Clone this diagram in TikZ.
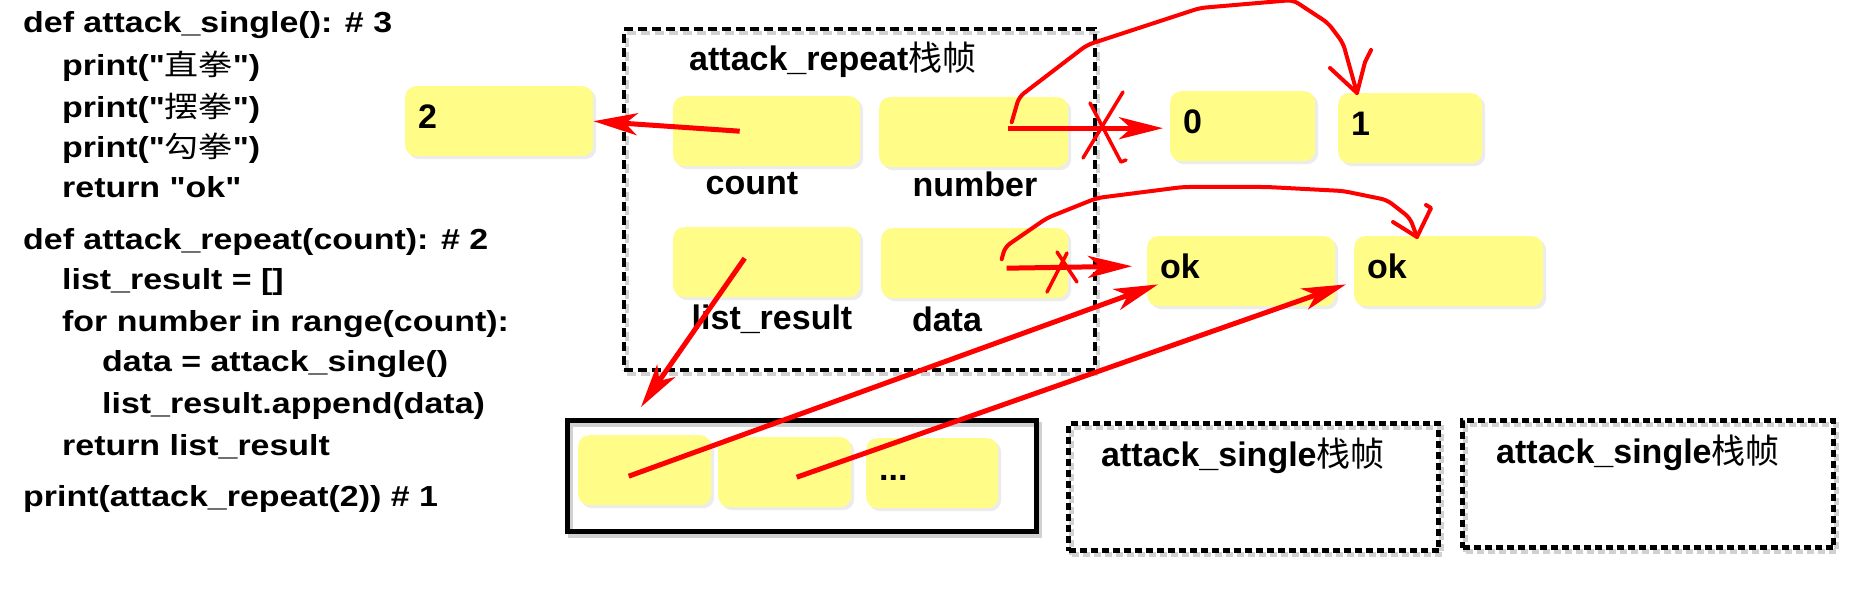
\documentclass[tikz,border=0pt]{standalone}
\usepackage{fontspec}
\setmainfont{Liberation Sans}
\newfontfamily\cjk{Noto Sans CJK SC}
\newfontfamily\codefont{Liberation Sans}[FakeStretch=1.17]
\newfontfamily\codecjk{Noto Sans CJK SC}[FakeStretch=1.17]
\usetikzlibrary{arrows.meta,shadows}

\definecolor{boxyellow}{RGB}{255,252,135}
\definecolor{arrowred}{RGB}{255,0,0}

\newcommand{\zhcode}[1]{{\codecjk\mdseries #1}}
\newcommand{\zhlabel}[1]{{\cjk\mdseries #1}}

\begin{document}
\begin{tikzpicture}[x=1pt, y=-1pt,
    codeline/.style={anchor=base west, inner sep=0pt, font=\fontsize{29}{34}\codefont\bfseries},
    tag/.style={anchor=base, inner sep=0pt, font=\fontsize{34}{40}\selectfont\bfseries},
    valbox/.style={fill=boxyellow, rounded corners=11pt, anchor=north west,
        inner xsep=13pt, inner ysep=0pt, text width=#1, minimum height=70pt,
        text height=21pt, text depth=6pt, align=left,
        font=\fontsize{34}{40}\selectfont\bfseries,
        drop shadow={opacity=0.15, shadow xshift=3pt, shadow yshift=-3pt}},
    stackframe/.style={draw, inner sep=0pt, anchor=north west, line width=4pt,
        dash pattern=on 9pt off 5pt,
        preaction={draw=black!18, transform canvas={shift={(3pt,-4pt)}}}},
    singleframe/.style={stackframe, line width=5pt, dash pattern=on 7pt off 4pt},
    listframe/.style={draw, inner sep=0pt, anchor=north west, line width=5pt,
        preaction={draw=black!18, transform canvas={shift={(3pt,-4pt)}}}},
    redarrow/.style={draw=arrowred, line width=5pt, -{Stealth[length=44pt, width=22pt, inset=12pt]}},
    redstroke/.style={draw=arrowred, line width=4pt, line cap=round, line join=round},
  ]
    \useasboundingbox[fill=white] (0,0) rectangle (1857,593);

    % source code
    \node[codeline] (c1) at (23,33) {def attack\_single(): \# 3};
    \node[codeline] (c2) at (62,76) {print("\zhcode{直拳}")};
    \node[codeline] (c3) at (62,118) {print("\zhcode{摆拳}")};
    \node[codeline] (c4) at (62,158) {print("\zhcode{勾拳}")};
    \node[codeline] (c5) at (62,198) {return "ok"};
    \node[codeline] (c6) at (23,250) {def attack\_repeat(count): \# 2};
    \node[codeline] (c7) at (62,290) {list\_result = []};
    \node[codeline] (c8) at (62,331) {for number in range(count):};
    \node[codeline] (c9) at (102,371) {data = attack\_single()};
    \node[codeline] (c10) at (102,413) {list\_result.append(data)};
    \node[codeline] (c11) at (62,455) {return list\_result};
    \node[codeline] (c12) at (23,506) {print(attack\_repeat(2)) \# 1};

    % frame of attack_repeat
    \node[stackframe, minimum width=471pt, minimum height=341pt] (repeat) at (622,27) {};
    \node[tag, anchor=base west] (reptitle) at (689,71) {attack\_repeat\zhlabel{栈帧}};
    \node[valbox=161pt] (cnt) at (673,96) {};
    \node[valbox=163pt] (num) at (879,97) {};
    \node[valbox=161pt] (lst) at (673,227) {};
    \node[valbox=161pt] (dat) at (881,228) {};
    \node[tag] (cntlabel) at (752,195) {count};
    \node[tag] (numlabel) at (975,197) {number};
    \node[tag] (lstlabel) at (772,330) {list\_result};
    \node[tag] (datlabel) at (947,332) {data};

    % values
    \node[valbox=162pt] (two) at (405,86) {2};
    \node[valbox=119pt] (zero) at (1170,91) {0};
    \node[valbox=118pt] (one) at (1338,93) {1};
    \node[valbox=162pt] (okA) at (1147,236) {ok};
    \node[valbox=163pt] (okB) at (1354,236) {ok};

    % the list
    \node[listframe, minimum width=469pt, minimum height=111pt] (listbox) at (565,418) {};
    \node[valbox=107pt] (cellA) at (578,435) {};
    \node[valbox=107pt] (cellB) at (718,437) {};
    \node[valbox=106pt] (cellC) at (866,438) {...};

    % frames of attack_single
    \node[singleframe, minimum width=370pt, minimum height=127pt] (singleA) at (1066,421) {};
    \node[tag, anchor=base west] (titleA) at (1101,466) {attack\_single\zhlabel{栈帧}};
    \node[singleframe, minimum width=371pt, minimum height=127pt] (singleB) at (1460,418) {};
    \node[tag, anchor=base west] (titleB) at (1496,463) {attack\_single\zhlabel{栈帧}};

    % references
    \draw[redarrow] ([xshift=-27pt]cnt.center) -- (two.east);
    \draw[redarrow] ([xshift=34pt,yshift=4pt]num.center) -- ([xshift=-7pt,yshift=-2pt]zero.west);
    \draw[redarrow] ([xshift=32pt,yshift=-5pt]dat.center) -- ([xshift=-15pt,yshift=5pt]okA.west);
    \draw[redarrow] ([xshift=-22pt,yshift=4pt]lst.center) -- ([xshift=76pt,yshift=11pt]listbox.north west);
    \draw[redarrow] ([xshift=-16pt,yshift=-6pt]cellA.center) -- ([xshift=11pt,yshift=22pt]okA.south west);
    \draw[redarrow] ([xshift=12pt,yshift=-5pt]cellB.center) -- ([xshift=-8pt,yshift=22pt]okB.south west);

    % rebinding of number and data
    \draw[redstroke, rounded corners=6pt] ([xshift=38pt,yshift=10pt]num.center) -- (1019,97) -- (1087,45)
        -- (1200,8) -- (1293,0) -- (1328,23) -- (1343,43) -- ([xshift=19pt]one.north west);
    \draw[redstroke] (1330,68) -- ([xshift=19pt]one.north west) -- (1365,62) -- (1371,50);
    \draw[redstroke, rounded corners=6pt] ([xshift=27pt,yshift=4pt]dat.center) -- (1005,247) -- (1047,218)
        -- (1097,198) -- (1183,187) -- (1267,187) -- (1343,191) -- (1387,200) -- (1410,218)
        -- ([xshift=63pt,yshift=-1pt]okB.north west);
    \draw[redstroke] (1393,222) -- ([xshift=63pt,yshift=-1pt]okB.north west) -- (1431,208) -- (1426,205);

    % crossed out references
    \draw[redstroke, line width=3.5pt] (1123,92) -- (1083,158);
    \draw[redstroke, line width=3.5pt] (1090,103) -- (1121,162) -- (1126,160);
    \draw[redstroke, line width=3.5pt] (1057,252) -- (1077,282);
    \draw[redstroke, line width=3.5pt] (1067,253) -- (1047,292);
\end{tikzpicture}
\end{document}
